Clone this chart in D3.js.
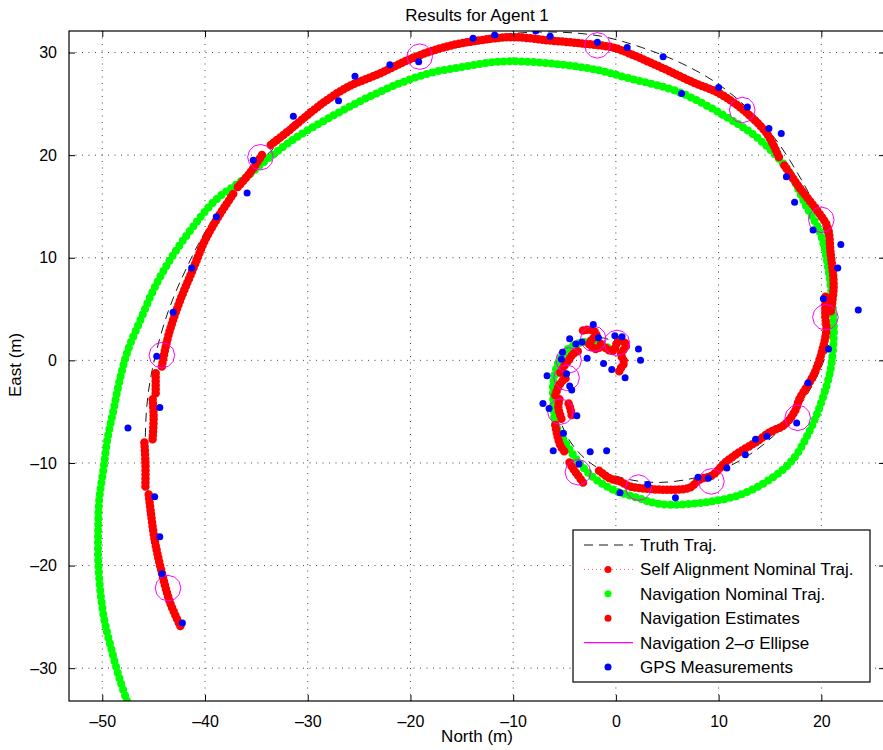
<!DOCTYPE html>
<html>
<head>
<meta charset="utf-8">
<script src="https://cdn.jsdelivr.net/npm/d3@7"></script>
<style>
  body { margin: 0; background: #fff; }
  svg text { font-family: "Liberation Sans", Arial, Helvetica, sans-serif; fill: #000; }
</style>
</head>
<body>
<svg id="chart" width="883" height="750"></svg>
<script>

// Axis ticks
var xTicks = [-50, -40, -30, -20, -10, 0, 10, 20];
var yTicks = [-30, -20, -10, 0, 10, 20, 30];

// Truth trajectory (North, East)
var truthTraj = [
	[-42.4,-26.0],[-43.8,-22.5],[-44.7,-19.0],[-45.3,-15.0],[-45.7,-11.0],[-45.8,-7.0],
	[-45.5,-3.0],[-44.7,1.0],[-43.5,5.0],[-41.8,9.0],[-39.7,13.0],[-37.2,16.5],
	[-34.2,19.8],[-31.0,22.8],[-27.5,25.5],[-23.5,27.9],[-19.3,29.7],[-15.0,31.0],
	[-10.5,31.8],[-6.0,32.0],[-1.5,31.6],[2.5,30.5],[6.5,28.9],[10.0,26.9],
	[13.0,24.4],[15.5,21.6],[17.6,18.4],[19.4,15.0],[20.6,11.5],[21.2,8.0],
	[21.2,4.5],[20.6,1.0],[19.2,-2.3],[17.4,-5.1],[15.3,-7.4],[13.0,-9.2],
	[10.4,-10.6],[7.5,-11.5],[4.2,-11.9],[1.2,-11.6],[-1.4,-10.7],[-3.3,-9.3],
	[-4.7,-7.5],[-5.5,-5.5],[-5.8,-3.5],[-5.6,-1.5],[-4.8,0.3],[-3.5,1.6],
	[-2.0,2.2],[-0.6,2.0],[0.3,1.2]
];

// Navigation nominal trajectory
var navNominal = [
	[-47.6,-33.2],[-48.3,-31.1],[-49.1,-28.2],[-49.8,-25.3],[-50.2,-22.4],[-50.4,-19.4],
	[-50.4,-16.5],[-50.3,-13.6],[-49.9,-10.7],[-49.5,-7.7],[-48.9,-4.8],[-48.3,-1.9],
	[-47.5,1.0],[-46.3,3.9],[-45.0,6.9],[-43.4,9.8],[-41.4,12.7],[-39.0,15.6],
	[-36.3,17.6],[-33.7,19.8],[-31.0,21.8],[-27.8,23.7],[-24.6,25.4],[-21.3,26.9],
	[-18.1,28.0],[-14.9,28.6],[-11.6,29.1],[-8.4,29.1],[-5.1,28.8],[-1.8,28.3],
	[1.2,27.5],[6.0,26.2],[10.8,23.7],[14.0,21.5],[16.7,18.6],[18.6,14.9],
	[19.9,12.4],[20.7,8.8],[21.2,3.9],[21.2,2.0],[20.9,-0.9],[20.1,-3.8],
	[18.9,-6.8],[17.2,-9.7],[15.0,-11.6],[12.1,-13.1],[8.2,-13.9],[4.3,-14.0],
	[2.1,-13.4],[-0.3,-12.6],[-2.2,-11.4],[-3.8,-9.7],[-5.1,-7.7],[-5.9,-6.1],
	[-6.1,-3.8],[-6.1,-2.2],[-5.6,-0.2],[-4.8,1.0],[-3.5,1.7],[-2.2,1.8],
	[-0.9,1.3],[-0.1,0.7]
];

// Navigation estimates, split where the filter jumps after a GPS update
var navEstimates = [
	[[-42.4,-25.9],[-43.4,-23.6],[-44.2,-20.7],[-44.9,-17.5],[-45.3,-14.6],[-45.5,-12.9]],
	[[-45.8,-12.3],[-45.8,-10.0],[-45.9,-8.0]],
	[[-45.1,-7.7],[-45.0,-5.5],[-45.1,-3.7]],
	[[-44.8,-3.2],[-44.8,-1.2]],
	[[-44.2,-0.6],[-43.9,1.0],[-43.4,3.0],[-42.4,5.9],[-41.2,8.8],[-40.0,11.7],
	 [-38.7,14.0],[-37.2,16.3]],
	[[-36.8,16.9],[-35.6,18.3],[-34.4,20.1]],
	[[-33.6,21.0],[-31.7,22.5],[-31.0,23.1],[-28.5,25.1],[-26.2,26.6],[-22.9,28.0],
	 [-19.7,29.5],[-16.4,30.6],[-13.2,31.2],[-10.0,31.5],[-6.7,31.2],[-3.5,30.9],
	 [-0.3,30.5],[1.1,30.0],[4.3,28.6],[7.5,27.1],[10.1,26.0],[12.4,24.4],
	 [14.7,22.1],[16.0,19.5]],
	[[16.4,19.0],[17.9,16.8],[19.6,14.6],[20.6,13.0],[20.9,10.5],[21.2,7.2],[20.9,4.6]],
	[[20.4,6.2],[20.4,4.2],[20.5,3.0],[20.1,1.0],[19.4,-1.1],[18.7,-2.4],[17.9,-3.7],
	 [17.4,-5.0],[16.4,-6.3],[15.0,-7.0],[13.6,-8.0],[12.1,-8.9],[10.6,-10.0],
	 [9.4,-11.2],[8.2,-11.6],[7.2,-12.4],[5.8,-12.6],[4.3,-12.6],[2.9,-12.5],
	 [1.4,-12.3],[0.4,-11.8],[-0.6,-11.5],[-1.7,-10.7]],
	[[-3.2,-11.9],[-3.7,-11.2],[-4.2,-10.5],[-4.6,-9.8]],
	[[-5.9,-6.3],[-5.7,-7.3],[-5.4,-8.3],[-5.0,-8.9]],
	[[-5.5,-3.8],[-5.6,-4.6],[-5.4,-5.4],[-5.2,-6.0]],
	[[-4.6,-4.2],[-4.4,-4.8],[-4.3,-5.4]],
	[[-5.9,-3.4],[-5.6,-2.6],[-5.2,-2.0],[-4.8,-1.7]],
	[[-5.4,-1.2],[-5.0,-0.5],[-4.6,0.0],[-4.2,0.6],[-3.7,0.9]],
	[[-3.2,2.9],[-2.5,3.0],[-1.9,2.6],[-2.6,1.6],[-1.8,1.1],[-1.4,1.7]],
	[[-1.0,1.2],[-0.3,0.9],[0.3,2.0],[1.0,1.5],[0.5,0.6],[0.8,-0.2],[0.4,-0.9],[0.2,-1.4]]
];

// 2-sigma ellipse centres and radius (m)
var ellipseCenters = [
	[-43.6,-22.2],[-44.2,0.5],[-34.6,19.8],[-19.1,29.6],[-1.8,30.7],[12.3,24.4],
	[20.0,13.7],[20.4,4.2],[17.7,-5.6],[9.3,-11.8],[2.2,-12.4],[-3.7,-10.9],
	[-5.4,-5.0],[-4.8,-1.7],[-4.6,0.0],[-2.2,2.1],[0.1,1.7]
];
var ellipseRadius = 1.25;

// GPS measurements
var gpsMeas = [
	[-42.2,-25.6],[-44.2,-20.8],[-44.4,-17.2],[-44.9,-13.3],[-47.5,-6.6],[-44.4,-4.6],
	[-44.7,0.4],[-43.1,4.7],[-41.3,9.0],[-38.9,14.0],[-35.9,16.3],[-35.3,19.5],
	[-31.4,23.8],[-27.0,25.3],[-25.4,27.7],[-22.0,28.8],[-19.2,29.1],[-13.9,31.4],
	[-11.8,31.7],[-7.8,32.1],[-6.4,31.6],[-1.8,31.0],[1.1,30.5],[4.6,29.6],
	[6.4,26.0],[10.0,26.6],[12.8,24.7],[14.9,22.6],[16.1,22.1],[16.6,17.9],
	[17.4,15.4],[19.2,12.7],[21.9,11.3],[21.6,9.0],[20.2,6.0],[23.6,4.9],
	[20.7,1.1],[18.7,-2.2],[17.6,-6.1],[14.7,-7.4],[13.6,-7.7],[12.6,-9.2],
	[10.8,-10.5],[9.0,-11.5],[8.0,-11.4],[5.8,-13.4],[3.1,-12.1],[0.4,-12.9],
	[-3.6,-10.1],[-2.5,-8.9],[-0.9,-8.8],[-6.1,-8.8],[-5.1,-7.1],[-3.8,-5.4],
	[-6.5,-4.7],[-7.1,-4.2],[-4.3,-2.9],[-4.5,-2.5],[-4.8,-1.3],[-6.7,-1.5],
	[-5.3,0.1],[-5.2,0.8],[-4.5,2.1],[-3.9,1.6],[-3.3,1.8],[-2.2,3.5],
	[-2.8,0.2],[-1.7,2.2],[-1.2,-0.3],[-0.1,2.4],[0.6,2.3],[2.2,1.1],
	[2.4,0.0],[-0.4,-0.9],[0.9,-1.7]
];

// Legend entries
var legendLabels = ['Truth Traj.', 'Self Alignment Nominal Traj.', 'Navigation Nominal Traj.',
	'Navigation Estimates', 'Navigation 2\u2013\u03c3 Ellipse', 'GPS Measurements'];

// Plot area
var svg = d3.select('#chart');
var plot = {left: 69, top: 31, right: 885, bottom: 701};

var xScale = d3.scaleLinear().domain([-53.24, 26.2]).range([plot.left, plot.right]);
var yScale = d3.scaleLinear().domain([-33.2, 32.1]).range([plot.bottom, plot.top]);

var minus = function(v) { return v < 0 ? '\u2013' + Math.abs(v) : '' + v; };

svg.append('defs').append('clipPath')
	.attr('id', 'clip')
	.append('rect')
	.attr('x', plot.left)
	.attr('y', plot.top)
	.attr('width', plot.right - plot.left)
	.attr('height', plot.bottom - plot.top);

// Dotted grid
var grid = svg.append('g').attr('class', 'grid');

grid.selectAll('.vgrid')
	.data(xTicks)
	.enter()
	.append('line')
	.attr('x1', function(d) { return xScale(d); })
	.attr('x2', function(d) { return xScale(d); })
	.attr('y1', plot.top)
	.attr('y2', plot.bottom)
	.attr('stroke', '#444')
	.attr('stroke-width', 1)
	.attr('stroke-dasharray', '1,5.5');

grid.selectAll('.hgrid')
	.data(yTicks)
	.enter()
	.append('line')
	.attr('y1', function(d) { return yScale(d); })
	.attr('y2', function(d) { return yScale(d); })
	.attr('x1', plot.left)
	.attr('x2', plot.right)
	.attr('stroke', '#444')
	.attr('stroke-width', 1)
	.attr('stroke-dasharray', '1,5.5');

var marks = svg.append('g').attr('clip-path', 'url(#clip)');

var line = d3.line()
	.x(function(d) { return xScale(d[0]); })
	.y(function(d) { return yScale(d[1]); })
	.curve(d3.curveCatmullRom);

// Truth trajectory, thin dashed
marks.append('path')
	.attr('d', line(truthTraj))
	.attr('fill', 'none')
	.attr('stroke', '#000')
	.attr('stroke-width', 0.9)
	.attr('stroke-dasharray', '9,6');

// Nominal trajectory drawn as a string of dots
marks.append('path')
	.attr('d', line(navNominal))
	.attr('fill', 'none')
	.attr('stroke', '#00ff00')
	.attr('stroke-width', 8)
	.attr('stroke-linecap', 'round')
	.attr('stroke-dasharray', '0,6');

// Estimates, one dotted piece per segment
marks.selectAll('.estimate')
	.data(navEstimates)
	.enter()
	.append('path')
	.attr('class', 'estimate')
	.attr('d', function(d) { return line(d); })
	.attr('fill', 'none')
	.attr('stroke', '#ff0000')
	.attr('stroke-width', 8.5)
	.attr('stroke-linecap', 'round')
	.attr('stroke-dasharray', '0,4');

// 2-sigma ellipses as 12-sided outlines
var ring = d3.range(13).map(function(i) { return i / 12 * 2 * Math.PI; });

marks.selectAll('.ellipse')
	.data(ellipseCenters)
	.enter()
	.append('path')
	.attr('class', 'ellipse')
	.attr('d', function(d) {
		return d3.line()(ring.map(function(a) {
			return [xScale(d[0] + ellipseRadius * Math.cos(a)), yScale(d[1] + ellipseRadius * Math.sin(a))];
		}));
	})
	.attr('fill', 'none')
	.attr('stroke', '#ff00ff')
	.attr('stroke-width', 1);

// GPS measurements
marks.selectAll('.gps')
	.data(gpsMeas)
	.enter()
	.append('circle')
	.attr('class', 'gps')
	.attr('cx', function(d) { return xScale(d[0]); })
	.attr('cy', function(d) { return yScale(d[1]); })
	.attr('r', 3.5)
	.attr('fill', '#0000ff');

// Axes box with inward ticks on all four sides
var axes = svg.append('g').attr('class', 'axes');

axes.append('rect')
	.attr('x', plot.left)
	.attr('y', plot.top)
	.attr('width', plot.right - plot.left)
	.attr('height', plot.bottom - plot.top)
	.attr('fill', 'none')
	.attr('stroke', '#000')
	.attr('stroke-width', 1.2);

var xAxis = d3.axisBottom(xScale).tickValues(xTicks).tickSizeInner(-6).tickSizeOuter(0).tickPadding(15).tickFormat(minus);
var yAxis = d3.axisLeft(yScale).tickValues(yTicks).tickSizeInner(-6).tickSizeOuter(0).tickPadding(12).tickFormat(minus);

axes.append('g')
	.attr('transform', 'translate(0,' + plot.bottom + ')')
	.call(xAxis);

axes.append('g')
	.attr('transform', 'translate(0,' + plot.top + ')')
	.call(d3.axisTop(xScale).tickValues(xTicks).tickSizeInner(-6).tickSizeOuter(0).tickFormat(''));

axes.append('g')
	.attr('transform', 'translate(' + plot.left + ',0)')
	.call(yAxis);

axes.append('g')
	.attr('transform', 'translate(' + plot.right + ',0)')
	.call(d3.axisRight(yScale).tickValues(yTicks).tickSizeInner(-6).tickSizeOuter(0).tickFormat(''));

axes.selectAll('.domain').remove();
axes.selectAll('.tick line').attr('stroke', '#000').attr('stroke-width', 1);
axes.selectAll('.tick text')
	.style('font-family', '"Liberation Sans", Arial, sans-serif')
	.style('font-size', '16px')
	.attr('fill', '#000');

// Title and axis labels
svg.append('text')
	.attr('x', 477)
	.attr('y', 21)
	.attr('text-anchor', 'middle')
	.style('font-size', '17px')
	.text('Results for Agent 1');

svg.append('text')
	.attr('x', 477)
	.attr('y', 742)
	.attr('text-anchor', 'middle')
	.style('font-size', '17px')
	.text('North (m)');

svg.append('text')
	.attr('transform', 'translate(21,365)rotate(-90)')
	.attr('text-anchor', 'middle')
	.style('font-size', '17px')
	.text('East (m)');

// Legend
var legend = svg.append('g').attr('class', 'legend');
var lgLeft = 573, lgTop = 530, rowH = 24.4;

legend.append('rect')
	.attr('x', lgLeft)
	.attr('y', lgTop)
	.attr('width', 297)
	.attr('height', 152)
	.attr('fill', '#fff')
	.attr('stroke', '#000')
	.attr('stroke-width', 1.2);

var rowY = function(i) { return lgTop + 15 + i * rowH; };

legend.append('line')
	.attr('x1', 584).attr('x2', 633)
	.attr('y1', rowY(0)).attr('y2', rowY(0))
	.attr('stroke', '#000')
	.attr('stroke-width', 0.9)
	.attr('stroke-dasharray', '9,6');

legend.append('line')
	.attr('x1', 584).attr('x2', 633)
	.attr('y1', rowY(1)).attr('y2', rowY(1))
	.attr('stroke', '#ff6666')
	.attr('stroke-width', 1)
	.attr('stroke-dasharray', '1,3');

legend.append('line')
	.attr('x1', 584).attr('x2', 633)
	.attr('y1', rowY(4)).attr('y2', rowY(4))
	.attr('stroke', '#ff00ff')
	.attr('stroke-width', 1.2);

var legendDots = [[1, '#ff0000'], [2, '#00ff00'], [3, '#ff0000'], [5, '#0000ff']];

legend.selectAll('.ldot')
	.data(legendDots)
	.enter()
	.append('circle')
	.attr('cx', 608)
	.attr('cy', function(d) { return rowY(d[0]); })
	.attr('r', 3.5)
	.attr('fill', function(d) { return d[1]; });

legend.selectAll('.ltext')
	.data(legendLabels)
	.enter()
	.append('text')
	.attr('x', 640)
	.attr('y', function(d, i) { return rowY(i) + 6; })
	.style('font-size', '17px')
	.text(function(d) { return d; });

</script>
</body>
</html>
